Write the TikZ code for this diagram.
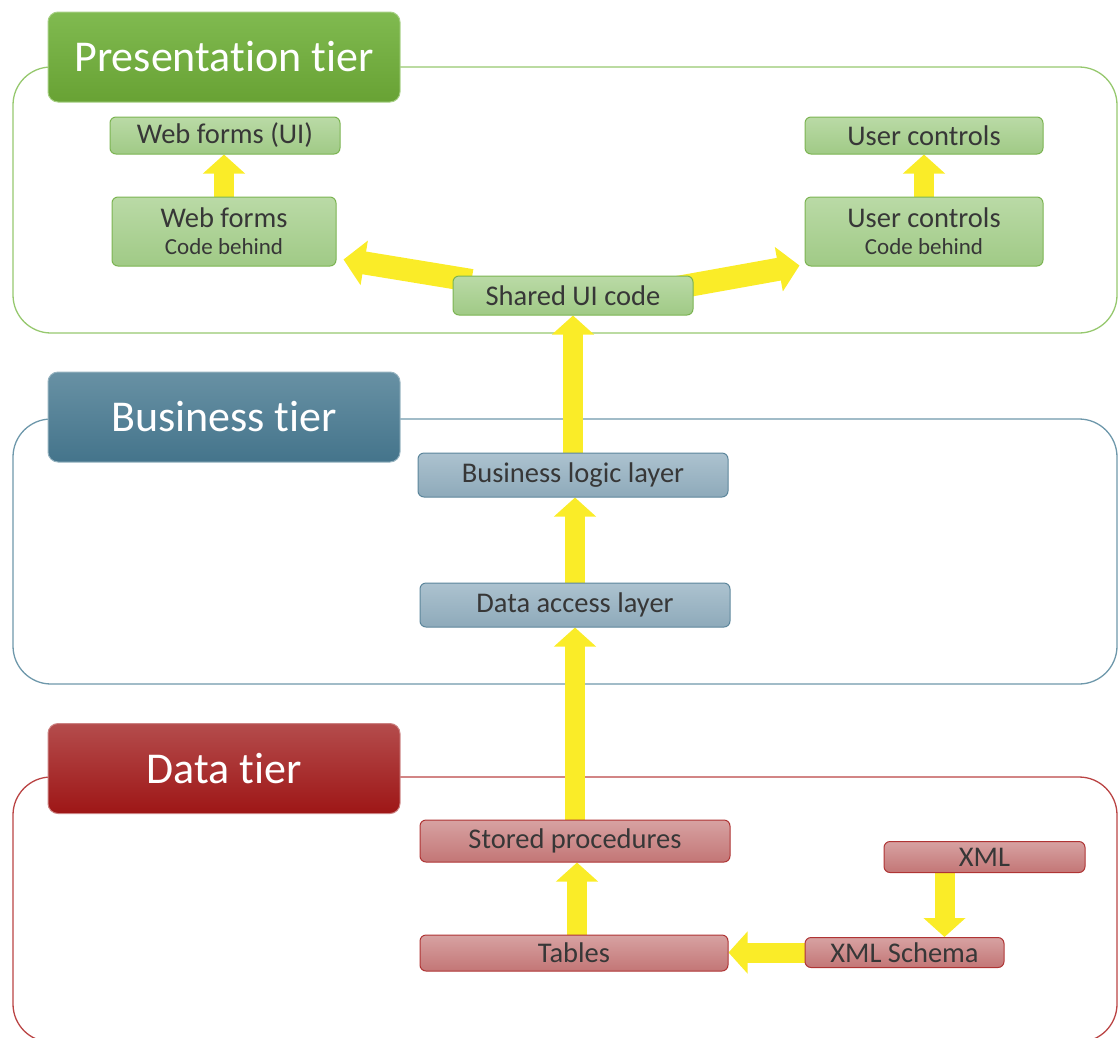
\documentclass[tikz,border=0pt]{standalone}
\usepackage{fontspec}
\setmainfont[Ligatures=NoCommon]{Carlito}
\usetikzlibrary{arrows.meta,calc}

\definecolor{presTop}{RGB}{128,186,80}
\definecolor{presBot}{RGB}{104,162,52}
\definecolor{presLine}{RGB}{150,200,110}
\definecolor{busTop}{RGB}{104,145,164}
\definecolor{busBot}{RGB}{68,116,139}
\definecolor{busLine}{RGB}{110,152,171}
\definecolor{datTop}{RGB}{180,76,76}
\definecolor{datBot}{RGB}{158,22,22}
\definecolor{datLine}{RGB}{186,68,68}
\definecolor{gTop}{RGB}{186,218,166}
\definecolor{gBot}{RGB}{160,202,134}
\definecolor{gEdge}{RGB}{124,180,82}
\definecolor{bTop}{RGB}{172,194,207}
\definecolor{bBot}{RGB}{142,170,186}
\definecolor{bEdge}{RGB}{92,134,155}
\definecolor{rTop}{RGB}{215,162,162}
\definecolor{rBot}{RGB}{195,118,118}
\definecolor{rEdge}{RGB}{175,52,52}
\definecolor{flowYellow}{RGB}{250,236,40}
\definecolor{inkGray}{RGB}{55,55,55}

\pgfdeclarelayer{back}
\pgfsetlayers{back,main}

\tikzset{
  tierhead/.style={rounded corners=10pt, minimum width=352pt, minimum height=90pt,
    inner sep=0pt, text=white, line width=1pt, font=\fontsize{44}{50}\selectfont},
  preshead/.style={tierhead, top color=presTop, bottom color=presBot, draw=presTop!70!white},
  bushead/.style={tierhead, top color=busTop, bottom color=busBot, draw=busTop!70!white},
  dathead/.style={tierhead, top color=datTop, bottom color=datBot, draw=datTop!70!white},
  tierframe/.style={rounded corners=38pt, line width=1.3pt},
  box/.style={rounded corners=6pt, inner sep=0pt, text=inkGray, line width=1pt,
    align=center, font=\fontsize{28.5}{30}\selectfont},
  gbox/.style={box, draw=gEdge, top color=gTop, bottom color=gBot},
  bbox/.style={box, draw=bEdge, top color=bTop, bottom color=bBot},
  rbox/.style={box, draw=rEdge, top color=rTop, bottom color=rBot},
  flow/.style={draw=flowYellow, line width=20pt,
    -{Triangle[length=19pt,width=41pt]}},
  slantflow/.style={draw=flowYellow, line width=23pt,
    -{Triangle[length=21pt,width=44pt]}},
}

\newcommand{\subline}[1]{{\fontsize{23}{26}\selectfont #1}}

\begin{document}
\begin{tikzpicture}[x=1pt,y=-1pt]
\useasboundingbox (0,0) rectangle (1119,1037);

% tier headers
\node[preshead] (pres) at (224,57)    {Presentation tier};
\node[bushead]  (bus)  at (224,417)   {Business tier};
\node[dathead]  (dat)  at (224,768.5) {Data tier};

% presentation tier boxes
\node[gbox, minimum width=230pt, minimum height=37pt] (wfui) at (225,135.5) {Web forms (UI)};
\node[gbox, minimum width=224pt, minimum height=69pt] (wfcb) at (224,231.5)
  {Web forms\\[-3pt]\subline{Code behind}};
\node[gbox, minimum width=238pt, minimum height=37pt] (ucui) at (924,135.5) {User controls};
\node[gbox, minimum width=238pt, minimum height=69pt] (uccb) at (924,231.5)
  {User controls\\[-3pt]\subline{Code behind}};
\node[gbox, minimum width=240pt, minimum height=39pt] (shared) at (573,295.5) {Shared UI code};

% business tier boxes
\node[bbox, minimum width=310pt, minimum height=44pt] (bll) at (573,475) {Business logic layer};
\node[bbox, minimum width=310pt, minimum height=44pt] (dal) at (575,605) {Data access layer};

% data tier boxes
\node[rbox, minimum width=310pt, minimum height=42pt] (sp)     at (575,841)   {Stored procedures};
\node[rbox, minimum width=308pt, minimum height=36pt] (tables) at (574,953)   {Tables};
\node[rbox, minimum width=201pt, minimum height=31pt] (xml)    at (984.5,857) {XML};
\node[rbox, minimum width=199pt, minimum height=30pt] (schema) at (904.5,952.5) {XML Schema};

\begin{pgfonlayer}{back}
  % tier frames
  \draw[tierframe, draw=presLine] (13,67)  rectangle (1117,333);
  \draw[tierframe, draw=busLine]  (13,419) rectangle (1117,684);
  \draw[tierframe, draw=datLine]  (13,777) rectangle (1117,1042);

  % flows inside the presentation tier
  \draw[flow] (wfcb.north) -- (wfcb.north |- wfui.south);
  \draw[flow] (uccb.north) -- (uccb.north |- ucui.south);
  \coordinate (lt) at ($(shared.north west)+(19,5)$);
  \coordinate (lh) at ($(wfcb.south east)+(7,-7)$);
  \draw[slantflow] (lt) -- (lh);
  \coordinate (rt) at ($(shared.north east)+(-22,13)$);
  \coordinate (rh) at ($(uccb.south west)+(-5,-1)$);
  \draw[slantflow] (rt) -- (rh);

  % flows up through the tiers
  \draw[flow] (bll.north) -- (bll.north |- shared.south);
  \draw[flow] (dal.north) -- (dal.north |- bll.south);
  \draw[flow] (sp.north)  -- (sp.north |- dal.south);
  \draw[flow] ([xshift=3pt]tables.north) -- ([xshift=3pt]tables.north |- sp.south);

  % XML feeding the tables
  \coordinate (xm) at ($(xml.south)!0.5!(schema.north)$);
  \draw[flow] (xm |- xml.south) -- (xm |- schema.north);
  \draw[flow] (schema.west) -- (schema.west -| tables.east);
\end{pgfonlayer}
\end{tikzpicture}
\end{document}
